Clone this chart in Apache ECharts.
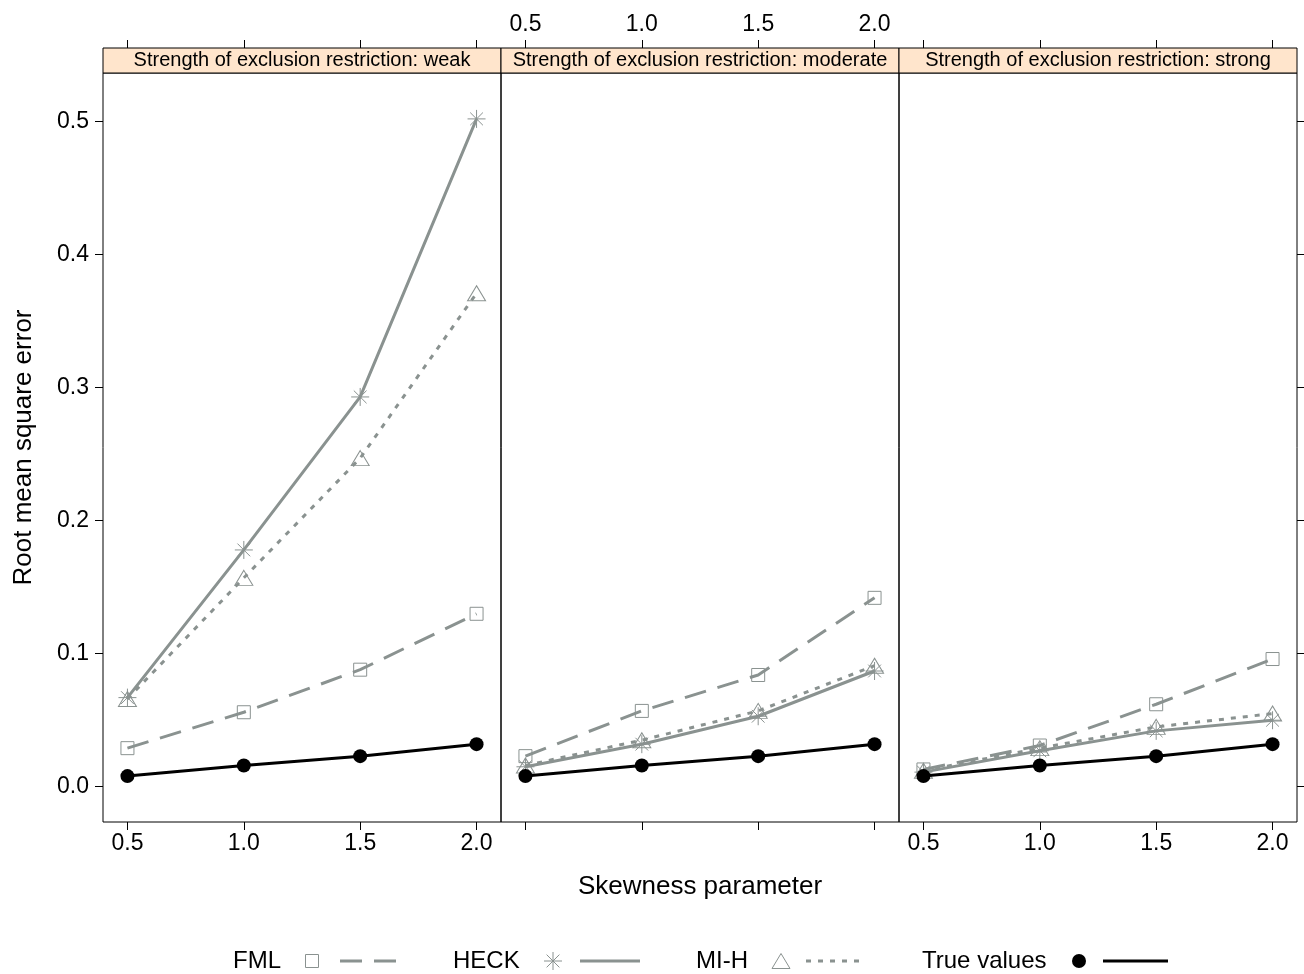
<!DOCTYPE html>
<html>
<head>
<meta charset="utf-8">
<script src="https://cdn.jsdelivr.net/npm/echarts@6/dist/echarts.min.js"></script>
<style>
html,body{margin:0;padding:0;background:#fff;}
#chart{width:1304px;height:974px;}
</style>
</head>
<body>
<div id="chart"></div>
<script>
// ---- data ----
const skew = [0.5, 1.0, 1.5, 2.0];
const xTicks = [0.5, 1.0, 1.5, 2.0];
const yTicks = [0.0, 0.1, 0.2, 0.3, 0.4, 0.5];
const stripLabels = [
  'Strength of exclusion restriction: weak',
  'Strength of exclusion restriction: moderate',
  'Strength of exclusion restriction: strong'
];
const seriesNames = ['FML', 'HECK', 'MI-H', 'True values'];

const fmlWeak = [0.029, 0.056, 0.088, 0.130];
const heckWeak = [0.067, 0.178, 0.293, 0.502];
const mihWeak = [0.066, 0.157, 0.247, 0.371];
const trueWeak = [0.008, 0.016, 0.023, 0.032];

const fmlModerate = [0.023, 0.057, 0.084, 0.142];
const heckModerate = [0.015, 0.032, 0.053, 0.087];
const mihModerate = [0.016, 0.035, 0.057, 0.091];
const trueModerate = [0.008, 0.016, 0.023, 0.032];

const fmlStrong = [0.013, 0.031, 0.062, 0.096];
const heckStrong = [0.011, 0.027, 0.042, 0.050];
const mihStrong = [0.012, 0.029, 0.045, 0.055];
const trueStrong = [0.008, 0.016, 0.023, 0.032];

const panelData = [
  [fmlWeak, heckWeak, mihWeak, trueWeak],
  [fmlModerate, heckModerate, mihModerate, trueModerate],
  [fmlStrong, heckStrong, mihStrong, trueStrong]
];

// ---- styling ----
const gray = '#8a9290';
const FONT = '"Liberation Sans", Arial, Helvetica, sans-serif';
const X_MIN = 0.395, X_MAX = 2.105;
const Y_MIN = -0.0265, Y_MAX = 0.5365;
const gridLefts = [103, 501, 899];
const gridW = 398;
const gridTop = 73, gridBottomPx = 822;
const stripH = 25;

const asterisk = 'path://M0,-10L0,10M-10,0L10,0M-7.07,-7.07L7.07,7.07M-7.07,7.07L7.07,-7.07';
const styles = [
  {symbol: 'rect', size: 13, line: [22, 12], color: gray, fill: 'rgba(0,0,0,0)'},
  {symbol: asterisk, size: 18, line: 'solid', color: gray, fill: 'rgba(0,0,0,0)'},
  {symbol: 'triangle', size: [18, 15], line: [5, 7], color: gray, fill: 'rgba(0,0,0,0)'},
  {symbol: 'circle', size: 14, line: 'solid', color: '#000', fill: '#000'}
];

const grids = gridLefts.map(l => ({
  left: l, width: gridW, top: gridTop, height: gridBottomPx - gridTop,
  show: true, borderColor: '#000', borderWidth: 1, backgroundColor: 'transparent'
}));

const fmt = v => Number(v).toFixed(1);
const xAxes = [];
gridLefts.forEach((l, gi) => {
  ['bottom', 'top'].forEach(pos => {
    const showLab = (pos === 'bottom') ? gi !== 1 : gi === 1;
    const ax = {
      type: 'value', gridIndex: gi, position: pos, min: X_MIN, max: X_MAX,
      offset: pos === 'top' ? stripH : 0,
      axisLine: {show: false, onZero: false}, splitLine: {show: false},
      axisTick: {show: true, length: 8, customValues: xTicks, lineStyle: {color: '#000', width: 1}},
      axisLabel: {show: showLab, customValues: xTicks, formatter: fmt, fontSize: 23,
        fontFamily: FONT, color: '#000', margin: pos === 'bottom' ? 10 : 12}
    };
    if (gi === 1 && pos === 'bottom') {
      ax.name = 'Skewness parameter';
      ax.nameLocation = 'middle';
      ax.nameGap = 52;
      ax.nameTextStyle = {fontSize: 26, fontFamily: FONT, color: '#000'};
    }
    xAxes.push(ax);
  });
});

const yAxes = gridLefts.map((l, gi) => {
  const ax = {
    type: 'value', gridIndex: gi, min: Y_MIN, max: Y_MAX,
    position: gi === 2 ? 'right' : 'left',
    axisLine: {show: false, onZero: false}, splitLine: {show: false},
    axisTick: {show: gi !== 1, length: 8, customValues: yTicks, lineStyle: {color: '#000', width: 1}},
    axisLabel: {show: gi === 0, customValues: yTicks, formatter: fmt, fontSize: 23,
      fontFamily: FONT, color: '#000', margin: 14}
  };
  if (gi === 0) {
    ax.name = 'Root mean square error';
    ax.nameLocation = 'middle';
    ax.nameGap = 66;
    ax.nameRotate = 90;
    ax.nameTextStyle = {fontSize: 26, fontFamily: FONT, color: '#000'};
  }
  return ax;
});

const series = [];
panelData.forEach((arrs, gi) => {
  arrs.forEach((vals, si) => {
    const st = styles[si];
    series.push({
      type: 'line', name: seriesNames[si],
      xAxisIndex: gi * 2, yAxisIndex: gi,
      data: skew.map((x, i) => [x, vals[i]]),
      symbol: st.symbol, symbolSize: st.size, symbolKeepAspect: true,
      showSymbol: true, showAllSymbol: true,
      lineStyle: {color: st.color, width: 3, type: st.line, cap: 'butt'},
      itemStyle: {color: st.fill, borderColor: st.color, borderWidth: si === 3 ? 0 : 1},
      emphasis: {disabled: true},
      z: 2 + si, animation: false
    });
  });
});

// strips + legend (graphic)
const graphic = [];
gridLefts.forEach((l, gi) => {
  graphic.push({type: 'rect', shape: {x: l, y: gridTop - stripH, width: gridW, height: stripH},
    style: {fill: '#ffe5cc', stroke: '#000', lineWidth: 1}, z: 10});
  graphic.push({type: 'text', x: l + gridW / 2, y: gridTop - stripH / 2,
    style: {text: stripLabels[gi], fontSize: 20, fontFamily: FONT, fill: '#000',
      align: 'center', verticalAlign: 'middle'}, z: 11});
});

const LY = 961;
function legText(x, t) {
  graphic.push({type: 'text', x: x, y: LY,
    style: {text: t, fontSize: 24, fontFamily: FONT, fill: '#000', align: 'left', verticalAlign: 'middle'}});
}
legText(233, seriesNames[0]);
graphic.push({type: 'rect', shape: {x: 305.5, y: LY - 6.5, width: 13, height: 13},
  style: {fill: 'none', stroke: gray, lineWidth: 1}});
graphic.push({type: 'line', shape: {x1: 340, y1: LY, x2: 400, y2: LY},
  style: {stroke: gray, lineWidth: 3, lineDash: [22, 12]}});

legText(453, seriesNames[1]);
[[0, -9, 0, 9], [-9, 0, 9, 0], [-6.4, -6.4, 6.4, 6.4], [-6.4, 6.4, 6.4, -6.4]].forEach(s => {
  graphic.push({type: 'line', shape: {x1: 553 + s[0], y1: LY + s[1], x2: 553 + s[2], y2: LY + s[3]},
    style: {stroke: gray, lineWidth: 1}});
});
graphic.push({type: 'line', shape: {x1: 580, y1: LY, x2: 640, y2: LY},
  style: {stroke: gray, lineWidth: 3}});

legText(696, seriesNames[2]);
graphic.push({type: 'polygon', shape: {points: [[772, LY + 7.5], [790, LY + 7.5], [781, LY - 7.5]]},
  style: {fill: 'none', stroke: gray, lineWidth: 1}});
graphic.push({type: 'line', shape: {x1: 806, y1: LY, x2: 862, y2: LY},
  style: {stroke: gray, lineWidth: 3, lineDash: [5, 7]}});

legText(922, seriesNames[3]);
graphic.push({type: 'circle', shape: {cx: 1079, cy: LY, r: 7}, style: {fill: '#000'}});
graphic.push({type: 'line', shape: {x1: 1103, y1: LY, x2: 1168, y2: LY},
  style: {stroke: '#000', lineWidth: 3}});

const chart = echarts.init(document.getElementById('chart'), null, {renderer: 'canvas'});
chart.setOption({
  backgroundColor: '#fff',
  animation: false,
  grid: grids,
  xAxis: xAxes,
  yAxis: yAxes,
  series: series,
  graphic: graphic
});
</script>
</body>
</html>
